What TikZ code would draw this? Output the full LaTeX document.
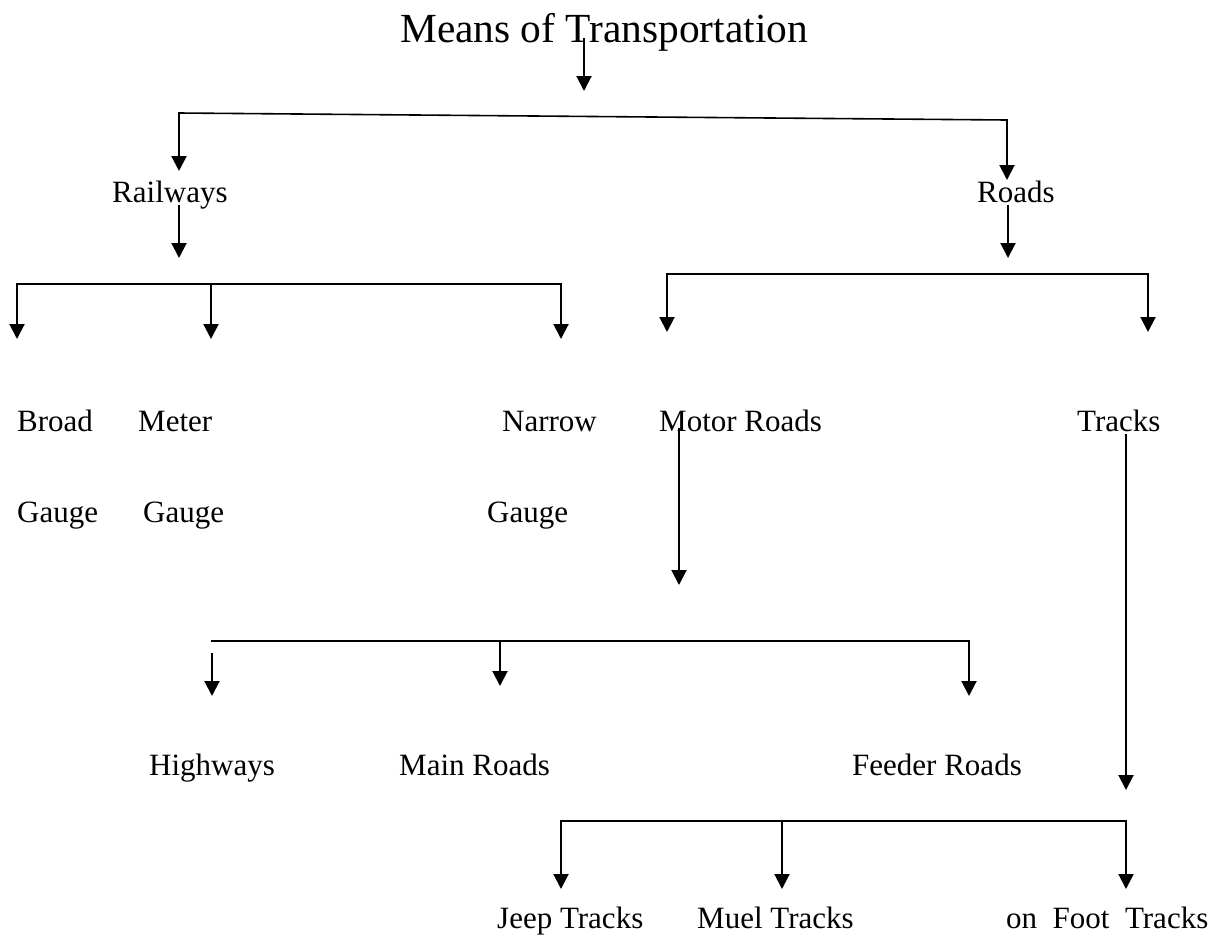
\documentclass[tikz,border=0pt]{standalone}
\usepackage{fontspec}
\setmainfont{Liberation Serif}
\usetikzlibrary{arrows.meta}
\begin{document}
\begin{tikzpicture}[x=1pt,y=-1pt,
  lbl/.style={inner sep=0pt, anchor=base west, font=\fontsize{31}{31}\selectfont},
  ttl/.style={inner sep=0pt, anchor=base west, font=\fontsize{41.4}{41.4}\selectfont},
  arr/.style={-{Triangle[width=15pt,length=15pt]}, line width=2pt},
  bar/.style={line width=1.6pt, line cap=rect}]
\useasboundingbox (0,0) rectangle (1231,935);
% texts
\node[ttl] (title) at (400,42) {Means of Transportation};
\node[lbl] (rail) at (112,202) {Railways};
\node[lbl] (roads) at (977,202) {Roads};
\node[lbl] (broad) at (17,431) {Broad};
\node[lbl] (meter) at (138,431) {Meter};
\node[lbl] (narrow) at (502,431) {Narrow};
\node[lbl] (gauge1) at (17,522) {Gauge};
\node[lbl] (gauge2) at (143,522) {Gauge};
\node[lbl] (gauge3) at (487,522) {Gauge};
\node[lbl] (motor) at (659,431) {Motor Roads};
\node[lbl] (tracks) at (1077,431) {Tracks};
\node[lbl] (high) at (149,775) {Highways};
\node[lbl] (main) at (399,775) {Main Roads};
\node[lbl] (feeder) at (852,775) {Feeder Roads};
\node[lbl] (jeep) at (497,928) {Jeep Tracks};
\node[lbl] (muel) at (697,928) {Muel Tracks};
\node[lbl] (foot) at (1006,928) {on\ \ Foot\ \ Tracks};
% coordinates
\coordinate (t0) at (584,38);   \coordinate (t1) at (584,91);
\coordinate (b1l) at (179,113); \coordinate (b1r) at (1007,120);
\coordinate (railin) at (179,171); \coordinate (roadsin) at (1007,180);
\coordinate (railout) at (179,205); \coordinate (railend) at (179,258);
\coordinate (roadsout) at (1008,205); \coordinate (roadsend) at (1008,258);
\coordinate (b2l) at (17,284); \coordinate (b2m) at (211,284); \coordinate (b2r) at (561,284);
\coordinate (b3l) at (667,274); \coordinate (b3r) at (1148,274);
\coordinate (motorout) at (679,428); \coordinate (motorend) at (679,585);
\coordinate (tracksout) at (1126,434); \coordinate (tracksend) at (1126,790);
\coordinate (b4l) at (212,641); \coordinate (b4m) at (500,641); \coordinate (b4r) at (969,641);
\coordinate (highin) at (212,653);
\coordinate (b5l) at (561,821); \coordinate (b5m) at (782,821); \coordinate (b5r) at (1126,821);
% connectors
\draw[arr] (t0) -- (t1);
\draw[bar] (b1l) -- (b1r);
\draw[arr] (b1l) -- (railin);
\draw[arr] (b1r) -- (roadsin);
\draw[arr] (railout) -- (railend);
\draw[arr] (roadsout) -- (roadsend);
\draw[bar] (b2l) -- (b2r);
\draw[arr] (b2l) -- ++(0,55);
\draw[arr] (b2m) -- ++(0,55);
\draw[arr] (b2r) -- ++(0,55);
\draw[bar] (b3l) -- (b3r);
\draw[arr] (b3l) -- ++(0,58);
\draw[arr] (b3r) -- ++(0,58);
\draw[arr] (motorout) -- (motorend);
\draw[arr] (tracksout) -- (tracksend);
\draw[bar] (b4l) -- (b4r);
\draw[arr] (highin) -- ++(0,43);
\draw[arr] (b4m) -- ++(0,45);
\draw[arr] (b4r) -- ++(0,55);
\draw[bar] (b5l) -- (b5r);
\draw[arr] (b5l) -- ++(0,68);
\draw[arr] (b5m) -- ++(0,68);
\draw[arr] (b5r) -- ++(0,68);
\end{tikzpicture}
\end{document}
